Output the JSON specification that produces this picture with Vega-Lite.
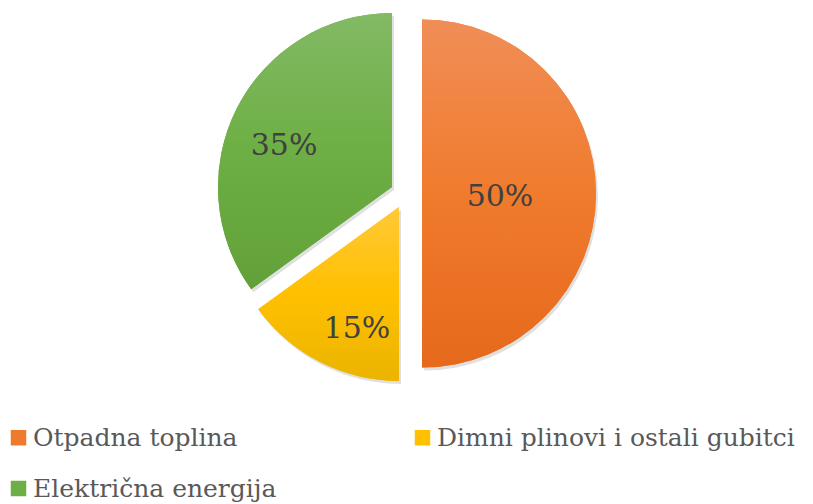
{
  "$schema": "https://vega.github.io/schema/vega-lite/v6.json",
  "width": 813,
  "height": 387,
  "autosize": {"type": "none"},
  "padding": {"left": 0, "top": 0, "right": 0, "bottom": 117},
  "background": "white",
  "data": {
    "values": [
      {"category": "Otpadna toplina", "value": 50, "label": "50%", "order": 1},
      {"category": "Dimni plinovi i ostali gubitci", "value": 15, "label": "15%", "order": 2},
      {"category": "Električna energija", "value": 35, "label": "35%", "order": 3}
    ]
  },
  "transform": [
    {"stack": "value", "groupby": [], "sort": [{"field": "order"}], "as": ["v0", "v1"]},
    {"calculate": "(datum.v0 + datum.v1) / 2", "as": "mid"}
  ],
  "config": {
    "view": {"stroke": null},
    "legend": {
      "orient": "none",
      "direction": "horizontal",
      "legendX": 6,
      "legendY": 425,
      "columns": 2,
      "symbolType": "square",
      "symbolSize": 240,
      "symbolStrokeWidth": 0,
      "symbolOpacity": 1,
      "labelFont": "DejaVu Serif",
      "labelFontSize": 25,
      "labelColor": "#595959",
      "labelLimit": 700,
      "labelOffset": 2,
      "columnPadding": 133,
      "rowPadding": 25,
      "padding": 0
    }
  },
  "layer": [
    {
      "transform": [{"filter": "datum.order == 1"}],
      "mark": {"type": "arc", "outerRadius": 174, "xOffset": 17.5, "yOffset": 3, "fill": "#000000", "opacity": 0.12},
      "encoding": {"theta": {"field": "v0", "type": "quantitative", "scale": {"domain": [0, 100]}}, "theta2": {"field": "v1"}}
    },
    {
      "transform": [{"filter": "datum.order == 2"}],
      "mark": {"type": "arc", "outerRadius": 174, "xOffset": -5.5, "yOffset": 16.5, "fill": "#000000", "opacity": 0.12},
      "encoding": {"theta": {"field": "v0", "type": "quantitative", "scale": {"domain": [0, 100]}}, "theta2": {"field": "v1"}}
    },
    {
      "transform": [{"filter": "datum.order == 3"}],
      "mark": {"type": "arc", "outerRadius": 174, "xOffset": -12.5, "yOffset": -3.5, "fill": "#000000", "opacity": 0.12},
      "encoding": {"theta": {"field": "v0", "type": "quantitative", "scale": {"domain": [0, 100]}}, "theta2": {"field": "v1"}}
    },
    {
      "transform": [{"filter": "datum.order == 1"}],
      "mark": {"type": "arc", "outerRadius": 174, "xOffset": 15.5, "yOffset": 0},
      "encoding": {
        "theta": {"field": "v0", "type": "quantitative", "scale": {"domain": [0, 100]}},
        "theta2": {"field": "v1"},
        "color": {"field": "category", "type": "nominal", "title": null,
          "scale": {"domain": ["Otpadna toplina", "Dimni plinovi i ostali gubitci", "Električna energija"], "range": ["#EE7A2E", "#FFC000", "#6DAE45"]}}
      }
    },
    {
      "transform": [{"filter": "datum.order == 2"}],
      "mark": {"type": "arc", "outerRadius": 174, "xOffset": -7.5, "yOffset": 13.5},
      "encoding": {
        "theta": {"field": "v0", "type": "quantitative", "scale": {"domain": [0, 100]}},
        "theta2": {"field": "v1"},
        "color": {"field": "category", "type": "nominal", "title": null,
          "scale": {"domain": ["Otpadna toplina", "Dimni plinovi i ostali gubitci", "Električna energija"], "range": ["#EE7A2E", "#FFC000", "#6DAE45"]}}
      }
    },
    {
      "transform": [{"filter": "datum.order == 3"}],
      "mark": {"type": "arc", "outerRadius": 174, "xOffset": -14.5, "yOffset": -6.5},
      "encoding": {
        "theta": {"field": "v0", "type": "quantitative", "scale": {"domain": [0, 100]}},
        "theta2": {"field": "v1"},
        "color": {"field": "category", "type": "nominal", "title": null,
          "scale": {"domain": ["Otpadna toplina", "Dimni plinovi i ostali gubitci", "Električna energija"], "range": ["#EE7A2E", "#FFC000", "#6DAE45"]}}
      }
    },
    {
      "transform": [{"filter": "datum.order == 1"}],
      "mark": {"type": "arc", "outerRadius": 174, "xOffset": 15.5, "yOffset": 0,
        "fill": {"gradient": "linear", "x1": 0, "y1": 0, "x2": 0, "y2": 1,
          "stops": [{"offset": 0, "color": "#F08E57"}, {"offset": 0.5, "color": "#F07B2D"}, {"offset": 1, "color": "#E6691C"}]}},
      "encoding": {"theta": {"field": "v0", "type": "quantitative", "scale": {"domain": [0, 100]}}, "theta2": {"field": "v1"}}
    },
    {
      "transform": [{"filter": "datum.order == 2"}],
      "mark": {"type": "arc", "outerRadius": 174, "xOffset": -7.5, "yOffset": 13.5,
        "fill": {"gradient": "linear", "x1": 0, "y1": 0, "x2": 0, "y2": 1,
          "stops": [{"offset": 0, "color": "#FFC938"}, {"offset": 0.5, "color": "#FFC000"}, {"offset": 1, "color": "#EBB400"}]}},
      "encoding": {"theta": {"field": "v0", "type": "quantitative", "scale": {"domain": [0, 100]}}, "theta2": {"field": "v1"}}
    },
    {
      "transform": [{"filter": "datum.order == 3"}],
      "mark": {"type": "arc", "outerRadius": 174, "xOffset": -14.5, "yOffset": -6.5,
        "fill": {"gradient": "linear", "x1": 0, "y1": 0, "x2": 0, "y2": 1,
          "stops": [{"offset": 0, "color": "#83BA65"}, {"offset": 0.5, "color": "#6DAF44"}, {"offset": 1, "color": "#62A139"}]}},
      "encoding": {"theta": {"field": "v0", "type": "quantitative", "scale": {"domain": [0, 100]}}, "theta2": {"field": "v1"}}
    },
    {
      "transform": [{"filter": "datum.order == 1"}],
      "mark": {"type": "text", "font": "DejaVu Serif", "fontSize": 30, "fill": "#404040", "xOffset": 15.5, "yOffset": 0, "dy": 3.5},
      "encoding": {"theta": {"field": "mid", "type": "quantitative", "scale": {"domain": [0, 100]}}, "radius": {"value": 78}, "text": {"field": "label"}}
    },
    {
      "transform": [{"filter": "datum.order == 2"}],
      "mark": {"type": "text", "font": "DejaVu Serif", "fontSize": 30, "fill": "#404040", "xOffset": -7.5, "yOffset": 13.5, "dx": 16.5, "dy": 7},
      "encoding": {"theta": {"field": "mid", "type": "quantitative", "scale": {"domain": [0, 100]}}, "radius": {"value": 129}, "text": {"field": "label"}}
    },
    {
      "transform": [{"filter": "datum.order == 3"}],
      "mark": {"type": "text", "font": "DejaVu Serif", "fontSize": 30, "fill": "#404040", "xOffset": -14.5, "yOffset": -6.5, "dx": -5, "dy": 11.5},
      "encoding": {"theta": {"field": "mid", "type": "quantitative", "scale": {"domain": [0, 100]}}, "radius": {"value": 115.5}, "text": {"field": "label"}}
    }
  ]
}
